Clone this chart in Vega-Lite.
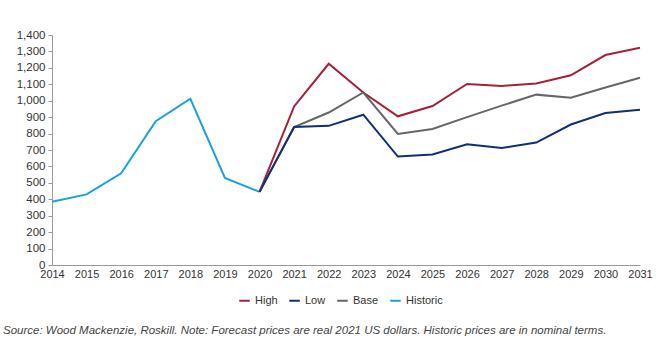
{
  "$schema": "https://vega.github.io/schema/vega-lite/v6.json",
  "width": 588,
  "height": 230,
  "autosize": {"type": "none"},
  "padding": {"left": 52, "top": 35, "right": 22, "bottom": 75},
  "background": "white",
  "config": {
    "view": {"stroke": null},
    "font": "Liberation Sans"
  },
  "title": {
    "text": "Source: Wood Mackenzie, Roskill. Note: Forecast prices are real 2021 US dollars. Historic prices are in nominal terms.",
    "orient": "bottom",
    "anchor": "start",
    "frame": "group",
    "dx": -49,
    "offset": 19,
    "fontSize": 11.5,
    "fontStyle": "italic",
    "fontWeight": "normal",
    "color": "#444444",
    "font": "Liberation Sans"
  },
  "data": {
    "values": [
      {"year": 2014, "series": "Historic", "value": 385},
      {"year": 2015, "series": "Historic", "value": 430},
      {"year": 2016, "series": "Historic", "value": 558},
      {"year": 2017, "series": "Historic", "value": 875},
      {"year": 2018, "series": "Historic", "value": 1012},
      {"year": 2019, "series": "Historic", "value": 530},
      {"year": 2020, "series": "Historic", "value": 445},
      {"year": 2020, "series": "High", "value": 445},
      {"year": 2021, "series": "High", "value": 965},
      {"year": 2022, "series": "High", "value": 1225},
      {"year": 2023, "series": "High", "value": 1050},
      {"year": 2024, "series": "High", "value": 905},
      {"year": 2025, "series": "High", "value": 968},
      {"year": 2026, "series": "High", "value": 1102},
      {"year": 2027, "series": "High", "value": 1090},
      {"year": 2028, "series": "High", "value": 1105},
      {"year": 2029, "series": "High", "value": 1155},
      {"year": 2030, "series": "High", "value": 1278},
      {"year": 2031, "series": "High", "value": 1322},
      {"year": 2020, "series": "Base", "value": 445},
      {"year": 2021, "series": "Base", "value": 840},
      {"year": 2022, "series": "Base", "value": 928},
      {"year": 2023, "series": "Base", "value": 1050},
      {"year": 2024, "series": "Base", "value": 798},
      {"year": 2025, "series": "Base", "value": 828},
      {"year": 2026, "series": "Base", "value": 900},
      {"year": 2027, "series": "Base", "value": 970},
      {"year": 2028, "series": "Base", "value": 1037},
      {"year": 2029, "series": "Base", "value": 1018},
      {"year": 2030, "series": "Base", "value": 1080},
      {"year": 2031, "series": "Base", "value": 1140},
      {"year": 2020, "series": "Low", "value": 445},
      {"year": 2021, "series": "Low", "value": 840},
      {"year": 2022, "series": "Low", "value": 847},
      {"year": 2023, "series": "Low", "value": 915},
      {"year": 2024, "series": "Low", "value": 660},
      {"year": 2025, "series": "Low", "value": 673},
      {"year": 2026, "series": "Low", "value": 735},
      {"year": 2027, "series": "Low", "value": 712},
      {"year": 2028, "series": "Low", "value": 745},
      {"year": 2029, "series": "Low", "value": 855},
      {"year": 2030, "series": "Low", "value": 925},
      {"year": 2031, "series": "Low", "value": 945}
    ]
  },
  "mark": {"type": "line", "strokeWidth": 2},
  "encoding": {
    "x": {
      "field": "year",
      "type": "quantitative",
      "scale": {"domain": [2014, 2031], "nice": false, "zero": false},
      "axis": {
        "title": null,
        "values": [2014, 2015, 2016, 2017, 2018, 2019, 2020, 2021, 2022, 2023, 2024, 2025, 2026, 2027, 2028, 2029, 2030, 2031],
        "format": "d",
        "grid": false,
        "ticks": false,
        "domainColor": "#999999",
        "labelFontSize": 11,
        "labelColor": "#333333",
        "labelPadding": 3,
        "labelFlush": false,
        "labelOverlap": false
      }
    },
    "y": {
      "field": "value",
      "type": "quantitative",
      "scale": {"domain": [0, 1400], "nice": false},
      "axis": {
        "title": null,
        "values": [0, 100, 200, 300, 400, 500, 600, 700, 800, 900, 1000, 1100, 1200, 1300, 1400],
        "format": ",d",
        "grid": false,
        "ticks": true,
        "tickSize": 4,
        "tickColor": "#999999",
        "domainColor": "#999999",
        "labelFontSize": 11.5,
        "labelColor": "#333333",
        "labelPadding": 3,
        "labelOverlap": false
      }
    },
    "color": {
      "field": "series",
      "type": "nominal",
      "scale": {
        "domain": ["High", "Low", "Base", "Historic"],
        "range": ["#A6203A", "#0E2F7A", "#666666", "#1BA1DC"]
      },
      "legend": {
        "title": null,
        "orient": "none",
        "legendX": 186,
        "legendY": 259,
        "direction": "horizontal",
        "symbolType": "stroke",
        "symbolSize": 110,
        "symbolStrokeWidth": 2,
        "labelFontSize": 11,
        "labelColor": "#333333",
        "columnPadding": 7,
        "labelOffset": 4
      }
    }
  }
}
